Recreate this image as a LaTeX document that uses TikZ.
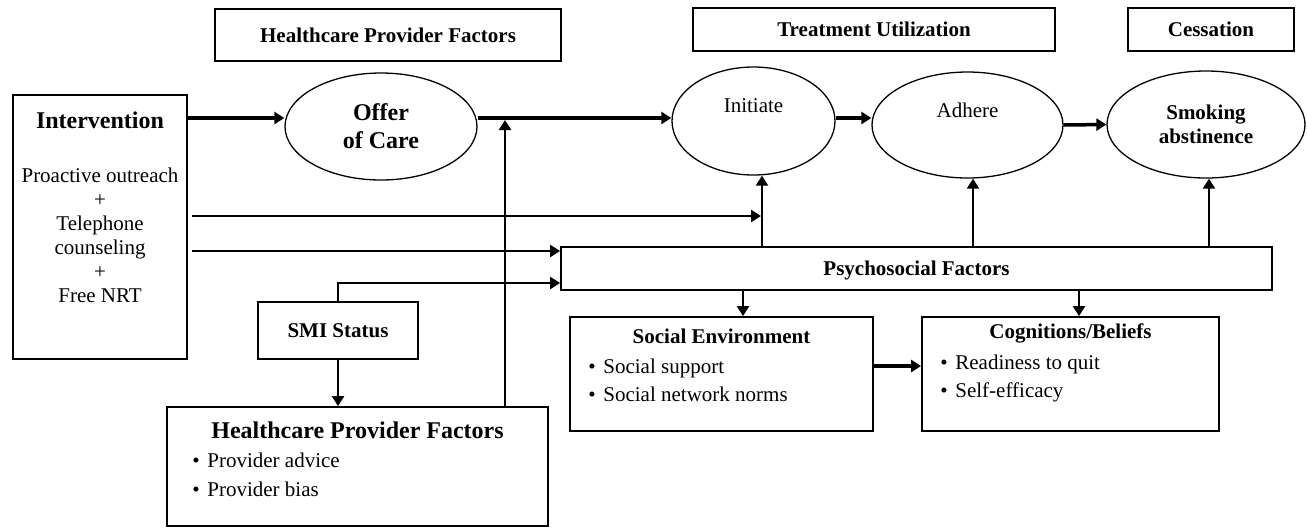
\documentclass[tikz,border=0pt]{standalone}
\usepackage{fontspec}
\setmainfont{Liberation Serif}
\usetikzlibrary{arrows.meta,shapes.geometric}
\newcommand{\bul}{\makebox[7.5pt][l]{\textbullet}}

\begin{document}
\begin{tikzpicture}[x=0.5pt,y=-0.5pt,
  >={Triangle[length=5pt,width=6pt]},
  font=\fontsize{10.5}{12}\selectfont,
  box/.style={draw,line width=0.9pt,inner sep=0pt},
  head/.style={box,font=\fontsize{10.5}{12}\selectfont\bfseries,text depth=0pt},
  oval/.style={draw,ellipse,line width=0.65pt,inner sep=0pt,align=center},
  title/.style={anchor=base,inner sep=0pt,font=\fontsize{12}{14}\selectfont\bfseries},
  stitle/.style={title,font=\fontsize{10.5}{12}\selectfont\bfseries},
  list/.style={anchor=north west,inner sep=0pt,align=left,font=\fontsize{10.5}{14}\selectfont},
  link/.style={->,line width=1.1pt},
  flow/.style={->,line width=1.75pt}]
  \useasboundingbox (0,0) rectangle (1307,527);
  % column headings
  \node[head,minimum width=173pt,minimum height=26pt] (hpfhead) at (388,35) {Healthcare Provider Factors};
  \node[head,minimum width=181pt,minimum height=21.5pt] (tuhead) at (874,29.5) {Treatment Utilization};
  \node[head,minimum width=83pt,minimum height=21.5pt] (cehead) at (1211,29.5) {Cessation};
  % intervention
  \node[box,minimum width=87pt,minimum height=132pt] (interv) at (100,227) {};
  \node[title] (intervtitle) at (100,128) {Intervention};
  \node[anchor=north,inner sep=0pt,align=center] (intervlist) at (100,165.2)
    {\strut Proactive outreach\\+\\Telephone\\counseling\\+\\Free NRT};
  % ovals
  \node[oval,minimum width=96pt,minimum height=53.5pt,font=\fontsize{12}{14}\selectfont\bfseries] (offer) at (381,126.5) {Offer\\of Care};
  \node[oval,minimum width=81.5pt,minimum height=54pt] (init) at (753.5,121) {};
  \node[anchor=base] (initlbl) at (753.5,112) {Initiate};
  \node[oval,minimum width=95.5pt,minimum height=53pt] (adh) at (967.5,125) {};
  \node[anchor=base] (adhlbl) at (967.5,117) {Adhere};
  \node[oval,minimum width=99pt,minimum height=53.5pt,font=\fontsize{10.5}{12}\selectfont\bfseries] (smoke) at (1206,124.5) {Smoking\\abstinence};
  % psychosocial and SMI
  \node[head,minimum width=355.5pt,minimum height=21.5pt] (psy) at (916.5,268.5) {Psychosocial Factors};
  \node[head,minimum width=80pt,minimum height=28.5pt] (smi) at (338,330.5) {SMI Status};
  % provider box
  \node[box,minimum width=190.5pt,minimum height=59.5pt] (hpf) at (357.5,466.5) {};
  \node[title] (hpftitle) at (357.5,438) {Healthcare Provider Factors};
  \node[list,font=\fontsize{10.5}{14.5}\selectfont] (hpflist) at (192,446.7)
    {\strut\bul Provider advice\\\bul Provider bias};
  % social environment
  \node[box,minimum width=151.5pt,minimum height=57pt] (soc) at (721.5,374) {};
  \node[stitle] (soctitle) at (721.5,343) {Social Environment};
  \node[list] (soclist) at (588,353.4) {\strut\bul Social support\\\bul Social network norms};
  % cognitions
  \node[box,minimum width=148.5pt,minimum height=57pt] (cog) at (1070.5,374) {};
  \node[stitle] (cogtitle) at (1070.5,338) {Cognitions/Beliefs};
  \node[list] (coglist) at (940,349.4) {\strut\bul Readiness to quit\\\bul Self-efficacy};
  % main pathway
  \coordinate (row) at (0,118);
  \draw[flow] (interv.east |- row) -- (offer.west |- row);
  \draw[flow] (offer.east |- row) -- (init.west |- row);
  \draw[flow] (init.east |- row) -- (adh.west |- row);
  \draw[flow] (adh.east) -- (smoke.west);
  % provider factors up to the pathway
  \coordinate (hpfup) at (505,120);
  \draw[link] (hpf.north -| hpfup) -- (hpfup);
  % intervention to initiate and psychosocial
  \coordinate (inix) at (761,0);
  \draw[link,shorten <=2pt] (interv.east |- 0,216) -- (inix |- 0,216);
  \draw[link,shorten <=2pt] (interv.east |- 0,251) -- (psy.west |- 0,251);
  \draw[link] (smi.north) |- (psy.west |- 0,283);
  \draw[link] (smi.south) -- (hpf.north -| smi.south);
  % psychosocial up and down
  \draw[link] (psy.north -| 762,0) -- (init.south -| 762,0);
  \draw[link] (psy.north -| 973,0) -- (adh.south -| 973,0);
  \draw[link] (psy.north -| 1209,0) -- (smoke.south -| 1209,0);
  \draw[link] (psy.south -| 743,0) -- (soc.north -| 743,0);
  \draw[link] (psy.south -| 1079,0) -- (cog.north -| 1079,0);
  \draw[flow] (soc.east |- 0,366) -- (cog.west |- 0,366);
\end{tikzpicture}
\end{document}
